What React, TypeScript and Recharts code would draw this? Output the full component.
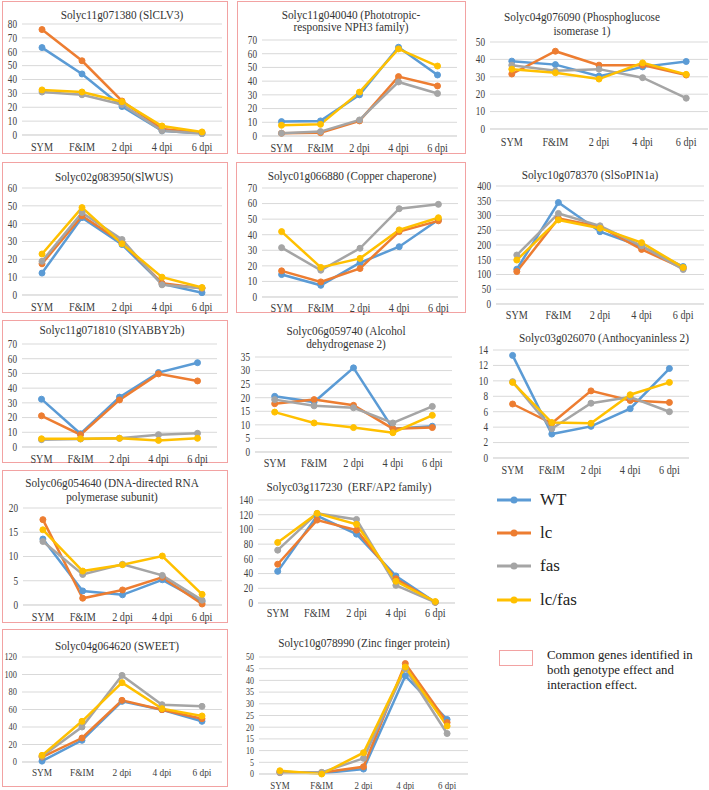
import { CartesianGrid, Line, LineChart, XAxis, YAxis } from "recharts"

const stages = ["SYM", "F&IM", "2 dpi", "4 dpi", "6 dpi"]
const genotypes = ["WT", "lc", "fas", "lc/fas"]
const keys = ["wt", "lc", "fas", "lcfas"]
const colors = ["#5b9bd5", "#ed7d31", "#a5a5a5", "#ffc000"]

// rows: WT, lc, fas, lc/fas
const clv3 = [
  [63, 44, 20.5, 3, 1],
  [76, 53.5, 24.5, 4.3, 1.7],
  [31, 29, 22, 3, 1],
  [32.5, 31, 24, 6.5, 2.2],
]
const nph3 = [
  [10.5, 11, 30, 64.7, 44.5],
  [2, 2.4, 11, 43.3, 36.5],
  [2, 3.2, 11.7, 39.4, 31],
  [7.8, 8.5, 32, 63.5, 51],
]
const pgi = [
  [39, 37, 30.4, 35.7, 38.8],
  [31.6, 44.7, 36.7, 36.7, 31],
  [36.7, 33.5, 34.4, 29.5, 17.7],
  [34.4, 32.3, 28.7, 38, 31.4],
]
const wus = [
  [12.3, 43.4, 28.3, 6.2, 1.3],
  [17.5, 44.3, 29.6, 6.6, 3.8],
  [18.9, 46.2, 31.1, 5.7, 3.8],
  [23, 49, 28.7, 10, 4.2],
]
const copper = [
  [14.4, 7.5, 22, 32.3, 49.6],
  [16.8, 9.7, 18.3, 42, 48.9],
  [31.7, 17.2, 31.3, 56.7, 59.5],
  [42, 19, 24.8, 43.1, 50.9],
]
const pin1a = [
  [118, 344, 245, 195, 127],
  [110, 290, 262, 185, 121],
  [166, 307, 265, 197, 117],
  [149, 285, 257, 208, 124],
]
const yabby = [
  [32.5, 9, 33.9, 50.6, 57.3],
  [21.2, 8.4, 32, 49.7, 44.9],
  [5, 5.4, 5.9, 8.4, 9.3],
  [5.6, 5.6, 5.9, 4.5, 5.9],
]
const adh = [
  [20.5, 18.4, 31, 8.6, 9.5],
  [17.8, 19.3, 17.2, 8.6, 9],
  [19.3, 17, 16.3, 10.7, 16.8],
  [14.7, 10.7, 9, 7.1, 13.5],
]
const ant = [
  [13.3, 3.1, 4.1, 6.4, 11.6],
  [7, 4.5, 8.7, 7.45, 7.2],
  [9.9, 3.8, 7.1, 7.9, 6],
  [9.8, 4.6, 4.5, 8.2, 9.8],
]
const rnap = [
  [13.6, 2.9, 2.1, 5.2, 0.7],
  [17.6, 1.4, 3.1, 5.7, 0.2],
  [13.1, 6.3, 8.4, 6.1, 1],
  [15.5, 7, 8.3, 10.1, 2.2],
]
const erf = [
  [43, 118.5, 93.6, 36.8, 1],
  [52.7, 112.7, 99, 33, 1],
  [71.8, 121.8, 113.6, 24, 1],
  [82.3, 121.8, 107, 29.5, 2],
]
const sweet = [
  [1, 24.8, 69.3, 59.8, 46.5],
  [5.7, 27.4, 70.5, 59.8, 49.5],
  [6.5, 40, 99, 65.5, 63.6],
  [7.6, 46.5, 90.7, 61, 52.6],
]
const zinc = [
  [1, 0.3, 2.1, 41.9, 23.3],
  [0.6, 0.6, 3.1, 47.2, 22],
  [0.6, 0.7, 6.7, 45, 17.3],
  [1.4, 0, 9.1, 45.7, 20.5],
]

const ticks80 = [0, 10, 20, 30, 40, 50, 60, 70, 80]
const ticks70 = [0, 10, 20, 30, 40, 50, 60, 70]
const ticks60 = [0, 10, 20, 30, 40, 50, 60]
const ticks50 = [0, 10, 20, 30, 40, 50]
const ticks400 = [0, 50, 100, 150, 200, 250, 300, 350, 400]
const ticks35 = [0, 5, 10, 15, 20, 25, 30, 35]
const ticks14 = [0, 2, 4, 6, 8, 10, 12, 14]
const ticks20 = [0, 5, 10, 15, 20]
const ticks140 = [0, 20, 40, 60, 80, 100, 120, 140]
const ticks120 = [0, 20, 40, 60, 80, 100, 120]
const ticks50by5 = [0, 5, 10, 15, 20, 25, 30, 35, 40, 45, 50]

const FONT = "'Liberation Serif', 'Times New Roman', serif"
const BOX = "#f2a2a2"

// plot: [left, right, top, bottom] in page px, ty = first title line, ls = line step, fs = tick font
const panels = [
  { title: ["Solyc11g071380 (SlCLV3)"], vals: clv3, ticks: ticks80, box: [2, 1, 226, 153], plot: [22, 222, 24, 135], tx: 122, ty: 15, ls: 12, ld: 12, fs: 11.5 },
  { title: ["Solyc11g040040 (Phototropic-", "responsive NPH3 family)"], vals: nph3, ticks: ticks70, box: [237, 1, 229, 153], plot: [262, 457, 40, 136], tx: 351, ty: 15, ls: 12.5, ld: 12, fs: 11.5 },
  { title: ["Solyc04g076090 (Phosphoglucose", "isomerase 1)"], vals: pgi, ticks: ticks50, plot: [490, 708, 42, 129], tx: 582, ty: 17, ls: 14, ld: 13, fs: 11.5 },
  { title: ["Solyc02g083950(SlWUS)"], vals: wus, ticks: ticks60, box: [2, 162, 226, 151], plot: [22, 222, 188, 295], tx: 114, ty: 177, ls: 12, ld: 12, fs: 11.5 },
  { title: ["Solyc01g066880 (Copper chaperone)"], vals: copper, ticks: ticks70, box: [236, 162, 230, 151], plot: [262, 458, 188, 297], tx: 352, ty: 176, ls: 12, ld: 11, fs: 11.5 },
  { title: ["Solyc10g078370 (SlSoPIN1a)"], vals: pin1a, ticks: ticks400, plot: [496, 704, 186, 304], tx: 590, ty: 175, ls: 12, ld: 11, fs: 11.5 },
  { title: ["Solyc11g071810 (SlYABBY2b)"], vals: yabby, ticks: ticks70, box: [2, 320, 226, 143], plot: [22, 217, 344, 447], tx: 112, ty: 330, ls: 12, ld: 12, fs: 11.5 },
  { title: ["Solyc06g059740 (Alcohol", "dehydrogenase 2)"], vals: adh, ticks: ticks35, plot: [255, 452, 357, 452], tx: 346, ty: 331, ls: 13, ld: 11, fs: 11.5 },
  { title: ["Solyc03g026070 (Anthocyaninless 2)"], vals: ant, ticks: ticks14, plot: [493, 689, 350, 458], tx: 604, ty: 338, ls: 12, ld: 12, fs: 11.5 },
  { title: ["Solyc06g054640 (DNA-directed RNA", "polymerase subunit)"], vals: rnap, ticks: ticks20, box: [2, 470, 226, 153], plot: [23, 222, 508, 605], tx: 112, ty: 483, ls: 14, ld: 12, fs: 11.5 },
  { title: ["Solyc03g117230  (ERF/AP2 family)"], vals: erf, ticks: ticks140, plot: [258, 455, 500, 603], tx: 349, ty: 487, ls: 12, ld: 10, fs: 11.5 },
  { title: ["Solyc04g064620 (SWEET)"], vals: sweet, ticks: ticks120, box: [2, 629, 226, 158], plot: [22, 222, 657, 762], tx: 117, ty: 646, ls: 12, ld: 10, fs: 10.5 },
  { title: ["Solyc10g078990 (Zinc finger protein)"], vals: zinc, ticks: ticks50by5, plot: [259, 468, 657, 774], tx: 364, ty: 643, ls: 12, ld: 11, fs: 10 },
]

function Panel({ p }: { p: any }) {
  const [L, R, T, B] = p.plot
  const band = (R - L) / stages.length
  const data = stages.map((s, i) => {
    const row: any = { stage: s }
    keys.forEach((k, j) => (row[k] = p.vals[j][i]))
    return row
  })
  const max = p.ticks[p.ticks.length - 1]
  const yTick = (props: any) => (
    <text
      transform={`translate(${props.x},${props.y}) scale(0.8,1)`}
      textAnchor="end"
      dominantBaseline="central"
      fontSize={p.fs}
      fontFamily={FONT}
      fill="#404040"
    >
      {props.payload.value}
    </text>
  )
  const xTick = (props: any) => (
    <text
      transform={`translate(${props.x},${props.y + p.ld}) scale(0.85,1)`}
      textAnchor="middle"
      dominantBaseline="central"
      fontSize={p.fs + 0.5}
      fontFamily={FONT}
      fill="#404040"
    >
      {props.payload.value}
    </text>
  )
  return (
    <>
      {p.box && (
        <div
          style={{
            position: "absolute",
            left: p.box[0],
            top: p.box[1],
            width: p.box[2],
            height: p.box[3],
            border: `1.5px solid ${BOX}`,
            boxSizing: "border-box",
          }}
        />
      )}
      {p.title.map((t: string, i: number) => (
        <div
          key={i}
          style={{
            position: "absolute",
            left: p.tx - 150,
            width: 300,
            top: p.ty + i * p.ls - p.ls / 2,
            height: p.ls,
            lineHeight: `${p.ls}px`,
            fontSize: 12.5,
            fontFamily: FONT,
            color: "#333",
            textAlign: "center",
            whiteSpace: "pre",
            transform: "scaleX(0.9)",
          }}
        >
          {t}
        </div>
      ))}
      <div style={{ position: "absolute", left: L - 40, top: T - 10 }}>
        <LineChart
          width={R - L + 45}
          height={B - T + 30}
          data={data}
          margin={{ top: 10, right: 5, bottom: 0, left: 0 }}
        >
          <CartesianGrid vertical={false} stroke="#d9d9d9" />
          <XAxis
            dataKey="stage"
            height={20}
            padding={{ left: band / 2, right: band / 2 }}
            axisLine={{ stroke: "#d9d9d9" }}
            tickLine={false}
            tickSize={0}
            tickMargin={0}
            interval={0}
            tick={xTick}
          />
          <YAxis
            width={40}
            type="number"
            domain={[0, max]}
            ticks={p.ticks}
            interval={0}
            axisLine={false}
            tickLine={false}
            tickSize={0}
            tickMargin={5}
            tick={yTick}
          />
          {keys.map((k, j) => (
            <Line
              key={k}
              dataKey={k}
              stroke={colors[j]}
              strokeWidth={2.5}
              dot={{ r: 3, fill: colors[j], stroke: colors[j], strokeWidth: 1 }}
              isAnimationActive={false}
            />
          ))}
        </LineChart>
      </div>
    </>
  )
}

function Legend() {
  const ys = [500, 533, 566, 600]
  const note = ["Common genes identified in", "both genotype effect and", "interaction effect."]
  return (
    <>
      <svg style={{ position: "absolute", left: 490, top: 485 }} width={50} height={130}>
        {genotypes.map((g, j) => (
          <g key={g}>
            <line x1={7} x2={41} y1={ys[j] - 485} y2={ys[j] - 485} stroke={colors[j]} strokeWidth={3} />
            <circle cx={24} cy={ys[j] - 485} r={3.5} fill={colors[j]} />
          </g>
        ))}
      </svg>
      {genotypes.map((g, j) => (
        <div
          key={g}
          style={{
            position: "absolute",
            left: 540,
            top: ys[j] - 10,
            lineHeight: "20px",
            fontSize: 17,
            fontFamily: FONT,
            color: "#222",
          }}
        >
          {g}
        </div>
      ))}
      <div
        style={{
          position: "absolute",
          left: 499,
          top: 650,
          width: 34,
          height: 16,
          border: `1.5px solid ${BOX}`,
          boxSizing: "border-box",
        }}
      />
      {note.map((t, i) => (
        <div
          key={i}
          style={{
            position: "absolute",
            left: 547,
            top: 647 + i * 15,
            height: 15,
            fontSize: 13.5,
            lineHeight: "15px",
            fontFamily: FONT,
            color: "#222",
            whiteSpace: "nowrap",
            transform: "scaleX(0.95)",
            transformOrigin: "left top",
          }}
        >
          {t}
        </div>
      ))}
    </>
  )
}

export default function App() {
  return (
    <div style={{ position: "absolute", left: 0, top: 0, width: 709, height: 790, background: "#fff", overflow: "hidden" }}>
      {panels.map((p, i) => (
        <Panel key={i} p={p} />
      ))}
      <Legend />
    </div>
  )
}
